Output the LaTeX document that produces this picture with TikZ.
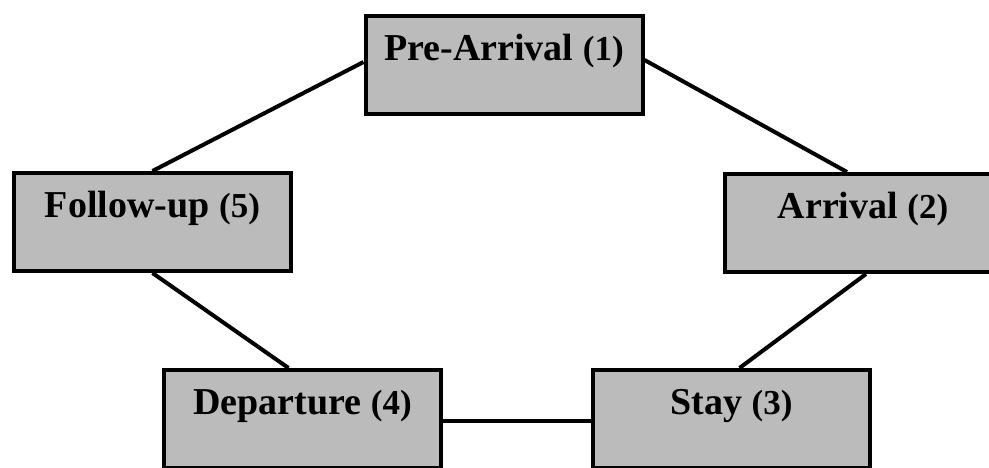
\documentclass[tikz,border=0pt]{standalone}
\usepackage{fontspec}
\setmainfont{Liberation Serif}
\usetikzlibrary{calc}
\definecolor{boxgray}{HTML}{BBBBBB}
\tikzset{
  stagebox/.style={draw=black, line width=4pt, fill=boxgray, inner sep=0pt,
    minimum width=277pt, text height=44pt, text depth=54pt, anchor=north,
    font=\fontsize{38}{43}\selectfont\bfseries},
  link/.style={draw=black, line width=4pt},
}
\newcommand{\stnum}[1]{{\fontsize{35}{40}\selectfont #1}}
\begin{document}
\begin{tikzpicture}[x=1pt,y=-1pt]
\useasboundingbox (0,0) rectangle (989,467);
\clip (0,0) rectangle (989,467);
\fill[white] (0,0) rectangle (989,467);
\node[stagebox] (pre) at (504,14) {Pre-Arrival \stnum{(1)}};
\node[stagebox] (arr) at (863,172) {Arrival \stnum{(2)}};
\node[stagebox] (fol) at (152.5,171) {Follow-up \stnum{(5)}};
\node[stagebox] (dep) at (302.5,368) {Departure \stnum{(4)}};
\node[stagebox] (sta) at (731.5,368) {Stay \stnum{(3)}};
\draw[link] ($(pre.west)+(0,-3)$) -- (fol.north);
\draw[link] ($(pre.east)+(0,-5)$) -- ($(arr.north)+(-16,0)$);
\draw[link] ($(arr.south)+(3,0)$) -- ($(sta.north)+(8,0)$);
\draw[link] (fol.south) -- ($(dep.north)+(-14,0)$);
\draw[link] ($(dep.east)+(0,2)$) -- ($(sta.west)+(0,2)$);
\end{tikzpicture}
\end{document}
